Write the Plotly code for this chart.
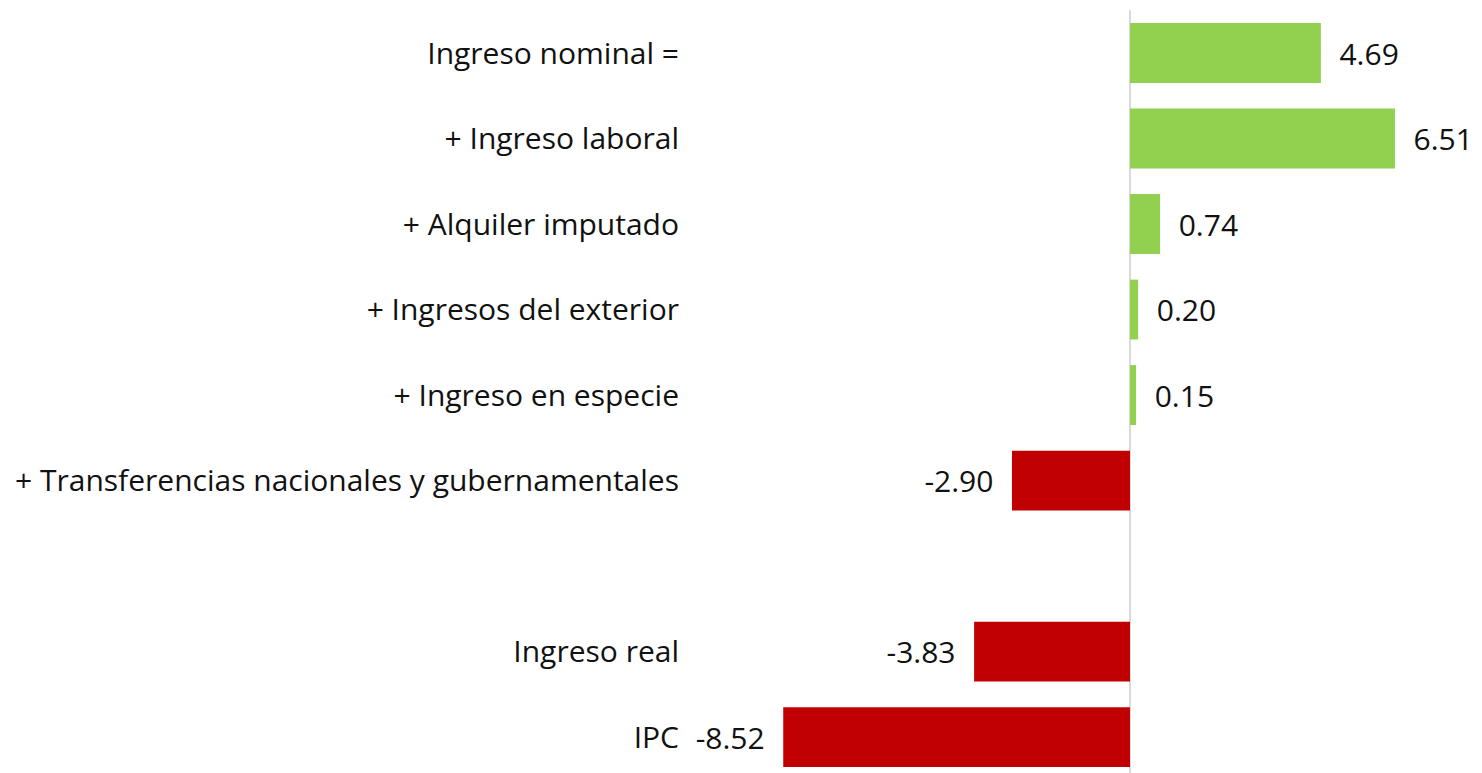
import plotly.graph_objects as go

categories = [
    "Ingreso nominal =",
    "+ Ingreso laboral",
    "+ Alquiler imputado",
    "+ Ingresos del exterior",
    "+ Ingreso en especie",
    "+ Transferencias nacionales y gubernamentales",
    " ",
    "Ingreso real",
    "IPC",
]
values = [4.69, 6.51, 0.74, 0.20, 0.15, -2.90, None, -3.83, -8.52]

GREEN = "#92D050"
RED = "#C00000"
colors = [GREEN if (v is not None and v >= 0) else RED for v in values]
NB = "\u00a0"
texts = []
for v in values:
    if v is None:
        texts.append("")
    elif v >= 0:
        texts.append(NB * 2 + f"{v:.2f}")
    else:
        texts.append(f"{v:.2f}" + NB * 2)

FONT = "Open Sans, sans-serif"
FS = 30
FW = 400
fig = go.Figure(
    go.Bar(
        y=categories,
        x=values,
        orientation="h",
        marker=dict(color=colors, line=dict(width=0)),
        width=0.7,
        text=texts,
        textposition="outside",
        textfont=dict(family=FONT, size=FS, color="#111111", weight=FW),
        cliponaxis=False,
        hoverinfo="skip",
    )
)

# page offset of 8px (body margin)
OFF = 8
L = 690 - OFF
zero_px = 1130 - OFF
right_px = 1482 - OFF
scale = 40.7
fig.update_layout(
    width=1482 - OFF,
    height=773 - OFF,
    margin=dict(l=L, r=0, t=10 - OFF, b=0),
    plot_bgcolor="white",
    paper_bgcolor="white",
    showlegend=False,
    font=dict(family=FONT, size=FS, color="#111111", weight=FW),
    xaxis=dict(
        range=[(L - zero_px) / scale, (right_px - zero_px) / scale],
        showgrid=False,
        showticklabels=False,
        zeroline=True,
        zerolinecolor="#d9d9d9",
        zerolinewidth=2,
        showline=False,
        fixedrange=True,
    ),
    yaxis=dict(
        type="category",
        categoryorder="array",
        categoryarray=categories,
        range=[8.42, -0.503],
        showgrid=False,
        zeroline=False,
        showline=False,
        ticks="",
        ticklabelstandoff=10,
        tickfont=dict(family=FONT, size=FS, color="#111111", weight=FW),
        fixedrange=True,
    ),
)

fig.write_html("out.html")
